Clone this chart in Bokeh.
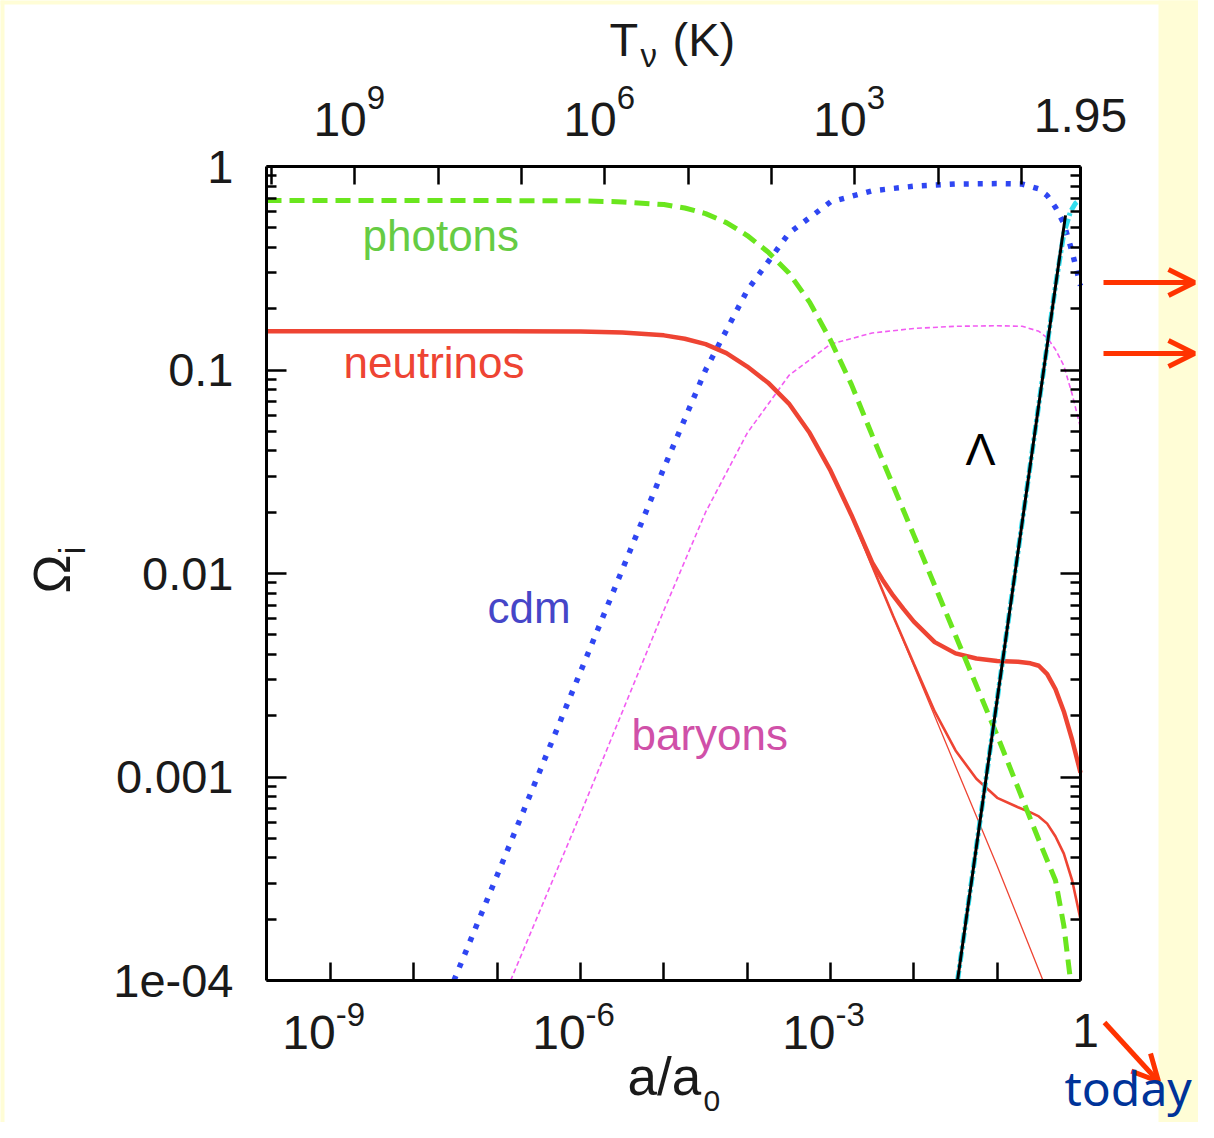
import numpy as np
from bokeh.plotting import figure
from bokeh.models import (Range1d, LogAxis, FixedTicker, Label, Arrow, OpenHead,
                          BoxAnnotation)
from bokeh.embed import file_html
from bokeh.resources import INLINE

# ---------------- data: log10(a/a0) and Omega_i ----------------
photon_loga = [-9.77, -7.0, -6.0, -5.5, -5.0, -4.75, -4.5, -4.25, -4.0, -3.75, -3.5, -3.25,
               -3.0, -2.75, -2.5, -2.0, -1.5, -1.0, -0.5, -0.3, -0.2, -0.12]
photon_omega = [0.68, 0.68, 0.678, 0.67, 0.65, 0.625, 0.587, 0.53, 0.458, 0.38, 0.30, 0.215,
                0.14, 0.085, 0.0477, 0.0154, 0.00496, 0.0016, 0.00049, 0.00031, 0.000186,
                0.0001]

# neutrinos: common early part (all three species), then three late branches
nu_early_loga = [-9.77, -7.0, -6.0, -5.5, -5.0, -4.75, -4.5, -4.25, -4.0, -3.75, -3.5, -3.25,
                 -3.0, -2.75]
nu_early_omega = [0.155, 0.155, 0.1545, 0.153, 0.148, 0.1425, 0.134, 0.121, 0.104, 0.0866,
                  0.0684, 0.049, 0.032, 0.0194]

nu_heavy_loga = [-2.5, -2.375, -2.25, -2.125, -2.0, -1.75, -1.5, -1.25, -1.0, -0.75, -0.6,
                 -0.5, -0.4, -0.3, -0.2, -0.1, 0.0]
nu_heavy_omega = [0.0113, 0.0093, 0.0078, 0.0067, 0.0058, 0.0046, 0.00405, 0.00382, 0.00372,
                  0.00368, 0.00362, 0.00352, 0.0032, 0.0027, 0.0021, 0.00152, 0.00105]

nu_mid_loga = [-2.5, -2.25, -2.0, -1.75, -1.5, -1.25, -1.0, -0.75, -0.6, -0.5, -0.4, -0.3,
               -0.2, -0.1, 0.0]
nu_mid_omega = [0.0109, 0.0062, 0.0036, 0.0021, 0.00135, 0.00098, 0.00079, 0.00071, 0.00067,
                0.00064, 0.00059, 0.00051, 0.00042, 0.00031, 0.0002]

nu_light_loga = [-2.5, -2.0, -1.5, -1.0, -0.45]
nu_light_omega = [0.0109, 0.00351, 0.00113, 0.000365, 0.0001]

cdm_loga = [-7.52, -7.0, -6.0, -5.0, -4.5, -4.0, -3.5, -3.0, -2.5, -2.0, -1.5, -1.0,
            -0.7, -0.5, -0.4, -0.3, -0.2, -0.1, 0.0]
cdm_omega = [1e-4, 3.3e-4, 3.3e-3, 0.033, 0.1, 0.246, 0.47, 0.67, 0.76, 0.80, 0.82,
             0.824, 0.82, 0.776, 0.72, 0.63, 0.525, 0.38, 0.26]

baryon_loga = [-6.84, -6.0, -5.0, -4.5, -4.0, -3.5, -3.0, -2.5, -2.0, -1.5, -1.0, -0.7,
               -0.5, -0.4, -0.3, -0.2, -0.1, 0.0]
baryon_omega = [1e-4, 6.6e-4, 6.6e-3, 0.02, 0.049, 0.094, 0.134, 0.152, 0.16, 0.164,
                0.165, 0.164, 0.155, 0.144, 0.126, 0.105, 0.076, 0.052]

lambda_line_loga = [-1.476, -0.18]
lambda_line_omega = [1e-4, 0.575]

lambda_curve_loga = [-1.476, -0.5, -0.3, -0.2, -0.12, -0.06, 0.0]
lambda_curve_omega = [1e-4, 0.068, 0.26, 0.47, 0.60, 0.66, 0.69]

# axis ticks
x_major = [1e-9, 1e-8, 1e-7, 1e-6, 1e-5, 1e-4, 1e-3, 1e-2, 1e-1, 1.0]
x_labels = {-9: "-9", -6: "-6", -3: "-3"}
T_decades = [10, 9, 8, 7, 6, 5, 4, 3, 2, 1]
T_labels = {9: "9", 6: "6", 3: "3"}
T_today = 1.95
y_major = [1e-4, 1e-3, 1e-2, 1e-1, 1.0]
y_labels = ["1e-04", "0.001", "0.01", "0.1", "1"]
y_minor = [m * 10.0 ** k for k in range(-4, 0) for m in range(2, 10)]

# ---------------- geometry (canvas pixels of the plot box) ----------------
W, H = 1198, 1122
LOG_XLO = -9.77
X_LO = 10 ** LOG_XLO
FONT = "Liberation Sans"
FL, FR, FT, FB = 266.0, 1080.0, 166.0, 980.0


def ax(px):
    return 10 ** (LOG_XLO + (px - FL) / (FR - FL) * (0 - LOG_XLO))


def ay(py):
    return 10 ** (-4 + (FB - py) / (FB - FT) * 4)


def xpx(a):
    return FL + (np.log10(a) - LOG_XLO) / (0 - LOG_XLO) * (FR - FL)


# frame fills the whole canvas; the axes sit at fixed locations around the plot box
p = figure(width=W, height=H, x_axis_type="log", y_axis_type="log",
           x_range=Range1d(ax(0), ax(W)), y_range=Range1d(ay(H), ay(0)),
           output_backend="svg", toolbar_location=None, min_border=0)
p.background_fill_color = "white"
p.border_fill_color = "white"
p.outline_line_color = None
p.xgrid.visible = False
p.ygrid.visible = False

# light-yellow slide background around the white panel
YEL = "#FFFDD6"
for l, r, t, b in [(1158, 1400, -200, 1300), (-200, 4, -200, 1300), (-200, 1400, -200, 4)]:
    p.add_layout(BoxAnnotation(left=ax(l), right=ax(r), top=ay(t), bottom=ay(b),
                               fill_color=YEL, fill_alpha=1.0, line_color=None,
                               level="underlay"))


def style_axis(axis, tick_in, minor_in=0):
    axis.axis_line_width = 3
    axis.axis_line_color = "black"
    axis.major_tick_in = tick_in
    axis.major_tick_out = 0
    axis.major_tick_line_width = 2.5
    axis.major_tick_line_color = "black"
    axis.minor_tick_in = minor_in
    axis.minor_tick_out = 0
    axis.minor_tick_line_width = 2.5
    axis.minor_tick_line_color = "black" if minor_in else None


# bottom axis
xa = p.xaxis[0]
xa.ticker = FixedTicker(ticks=x_major, minor_ticks=[])
xa.fixed_location = 1e-4
xa.bounds = (X_LO, 1.0)
style_axis(xa, 18)
xa.major_label_overrides = {t: "" for t in x_major}

# left axis
ya = p.yaxis[0]
ya.ticker = FixedTicker(ticks=y_major, minor_ticks=y_minor)
ya.fixed_location = X_LO
ya.bounds = (1e-4, 1.0)
style_axis(ya, 20, 10)
ya.major_label_overrides = {t: s for t, s in zip(y_major, y_labels)}
ya.major_label_text_font = FONT
ya.major_label_text_font_size = "47px"
ya.major_label_text_color = "#1a1a1a"
ya.major_label_standoff = 33

# right axis
ra = LogAxis(ticker=FixedTicker(ticks=y_major, minor_ticks=y_minor), fixed_location=1.0,
             bounds=(1e-4, 1.0))
style_axis(ra, 20, 10)
ra.major_label_overrides = {t: "" for t in y_major}
p.add_layout(ra, "right")

# top axis (T_nu = 1.95 K / a)
top_ticks = [T_today / 10.0 ** k for k in T_decades]
ta = LogAxis(ticker=FixedTicker(ticks=top_ticks, minor_ticks=[]), fixed_location=1.0,
             bounds=(X_LO, 1.0))
style_axis(ta, 18)
ta.major_label_overrides = {t: "" for t in top_ticks}
p.add_layout(ta, "above")

# ---------------- curves ----------------
def A(loga):
    return [10.0 ** v for v in loga]


p.line(A(baryon_loga), baryon_omega, line_color="#F25CF2", line_width=1.6, line_dash="5 3")
p.line(A(cdm_loga), cdm_omega, line_color="#2F46F2", line_width=5.5, line_dash="5 9")
p.line(A(nu_early_loga + nu_light_loga), nu_early_omega + nu_light_omega,
       line_color="#EE4433", line_width=1.3)
p.line(A(nu_early_loga + nu_mid_loga), nu_early_omega + nu_mid_omega,
       line_color="#EE4433", line_width=2.6)
p.line(A(nu_early_loga + nu_heavy_loga), nu_early_omega + nu_heavy_omega,
       line_color="#EE4433", line_width=4.5)
p.line(A(photon_loga), photon_omega, line_color="#6AE61E", line_width=5, line_dash="15 8")
p.line(A(lambda_curve_loga), lambda_curve_omega, line_color="#33DDEE", line_width=5,
       line_dash="10 3 3 3")
p.line(A(lambda_line_loga), lambda_line_omega, line_color="black", line_width=3)

# ---------------- texts (positions given as baseline, converted to a middle anchor) ------
def lab(text, px, py, size, color="#1a1a1a", align="left", angle=0.0, font=FONT):
    if angle:
        px = px - 0.40 * size
    else:
        py = py - 0.40 * size
    p.add_layout(Label(x=ax(px), y=ay(py), text=text, text_font=font,
                       text_font_size=f"{size}px", text_color=color, text_align=align,
                       text_baseline="middle", angle=angle))


# bottom tick labels
for k, e in x_labels.items():
    tx = xpx(10.0 ** k)
    lab("10", tx + 5, 1051, 48, align="right")
    lab(e, tx + 5, 1027, 33)
lab("1", xpx(1.0) + 5, 1049, 48, align="center")

# top tick labels
for k, e in T_labels.items():
    tx = xpx(T_today / 10.0 ** k)
    lab("10", tx + 12, 138, 48, align="right")
    lab(e, tx + 12, 110, 33)
lab("1.95", xpx(1.0), 134, 48, align="center")

# axis titles
lab("T", 609, 58, 47)
lab("\u03bd", 640, 68, 33)
lab("(K)", 672, 58, 47)
lab("a/a", 627, 1097, 53)
lab("0", 703, 1112, 30)
lab("\u03a9", 72, 593, 52, angle=np.pi / 2)
lab("i", 86, 554, 36, angle=np.pi / 2)

# curve labels
lab("photons", 362, 253, 44, color="#66CC44")
lab("neutrinos", 343, 380, 44, color="#EE4433")
lab("cdm", 487, 625, 44, color="#4646C8")
lab("baryons", 631, 752, 44, color="#D050A8")
lab("\u039b", 965, 467, 45, color="black")

# arrows and "today"
RED = "#FF3300"
for yy in (282, 353):
    p.add_layout(Arrow(end=OpenHead(size=26, line_color=RED, line_width=5),
                       x_start=ax(1103), y_start=ay(yy), x_end=ax(1194), y_end=ay(yy),
                       line_color=RED, line_width=5))
p.add_layout(Arrow(end=OpenHead(size=26, line_color=RED, line_width=5),
                   x_start=ax(1104), y_start=ay(1022), x_end=ax(1158), y_end=ay(1081),
                   line_color=RED, line_width=5))
lab("today", 1064, 1106, 48, color="#003399", font="Noto Sans")

open("out.html", "w").write(file_html(p, INLINE))
